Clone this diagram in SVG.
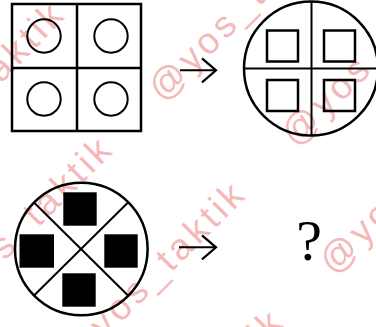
<svg xmlns="http://www.w3.org/2000/svg" width="376" height="327" viewBox="0 0 376 327">
  <style>
    .ln { fill: none; stroke: #000; stroke-width: 2.5; }
    .thin { fill: none; stroke: #000; stroke-width: 2; }
    .blk { fill: #000; stroke: none; }
    .wm { font-family: "Liberation Sans", Arial, sans-serif; font-size: 37px; letter-spacing: 4px; fill: #f5b8b8; }
    .q { font-family: "Liberation Serif", "Times New Roman", serif; font-size: 58px; fill: #000; }
  </style>
  <defs>
    <marker id="chev" markerUnits="userSpaceOnUse" markerWidth="18" markerHeight="28" viewBox="0 0 18 28" refX="16" refY="14" orient="auto">
      <path d="M2,2 L16,14 L2,26" fill="none" stroke="#000" stroke-width="2.2"/>
    </marker>
  </defs>
  <rect width="376" height="327" fill="#fff"/>

  <g id="watermark">
    <text class="wm" transform="translate(-103,192) rotate(-46)">@yos_taktik</text>
    <text class="wm" transform="translate(-58,324) rotate(-45)">@yos_taktik</text>
    <text class="wm" transform="translate(163,103) rotate(-45)">@yos_taktik</text>
    <text class="wm" transform="translate(75,369) rotate(-45)">@yos_taktik</text>
    <text class="wm" transform="translate(296,148) rotate(-45)">@yos_taktik</text>
    <text class="wm" transform="translate(113,497) rotate(-45)">@yos_taktik</text>
    <text class="wm" transform="translate(334,276) rotate(-45)">@yos_taktik</text>
  </g>

  <g id="fig1">
    <rect class="ln" x="12" y="4" width="129" height="127"/>
    <line class="ln" x1="77" y1="4" x2="77" y2="131"/>
    <line class="ln" x1="12" y1="68" x2="141" y2="68"/>
    <circle class="thin" cx="44" cy="36" r="16.7"/>
    <circle class="thin" cx="111" cy="36" r="16.7"/>
    <circle class="thin" cx="44" cy="99" r="16.7"/>
    <circle class="thin" cx="111" cy="99" r="16.7"/>
  </g>

  <g id="fig2">
    <circle class="ln" cx="311" cy="68.5" r="67"/>
    <line class="thin" x1="311.5" y1="1.5" x2="311.5" y2="135.5"/>
    <line class="thin" x1="244" y1="68.5" x2="376" y2="68.5"/>
    <rect class="ln" x="267" y="30.5" width="31" height="31"/>
    <rect class="ln" x="324" y="30.5" width="31" height="31"/>
    <rect class="ln" x="267" y="80" width="31" height="31"/>
    <rect class="ln" x="324" y="80" width="31" height="31"/>
  </g>

  <g id="fig3">
    <circle class="ln" cx="81.3" cy="249" r="66.3"/>
    <line class="thin" x1="33.5" y1="202" x2="128.5" y2="296"/>
    <line class="thin" x1="128.5" y1="202" x2="33.5" y2="296"/>
    <rect class="blk" x="63.3" y="192.3" width="33.4" height="33.4"/>
    <rect class="blk" x="19.5" y="234.3" width="34.5" height="33.4"/>
    <rect class="blk" x="104.3" y="234.3" width="33.4" height="33.4"/>
    <rect class="blk" x="62.3" y="273.3" width="33.4" height="33.4"/>
  </g>

  <g id="fig4">
    <text class="q" x="309" y="259.5" text-anchor="middle">?</text>
  </g>

  <g id="connectors">
    <line class="thin" x1="180" y1="70.3" x2="216" y2="70.3" marker-end="url(#chev)"/>
    <line class="thin" x1="179" y1="247.3" x2="216" y2="247.3" marker-end="url(#chev)"/>
  </g>
</svg>
